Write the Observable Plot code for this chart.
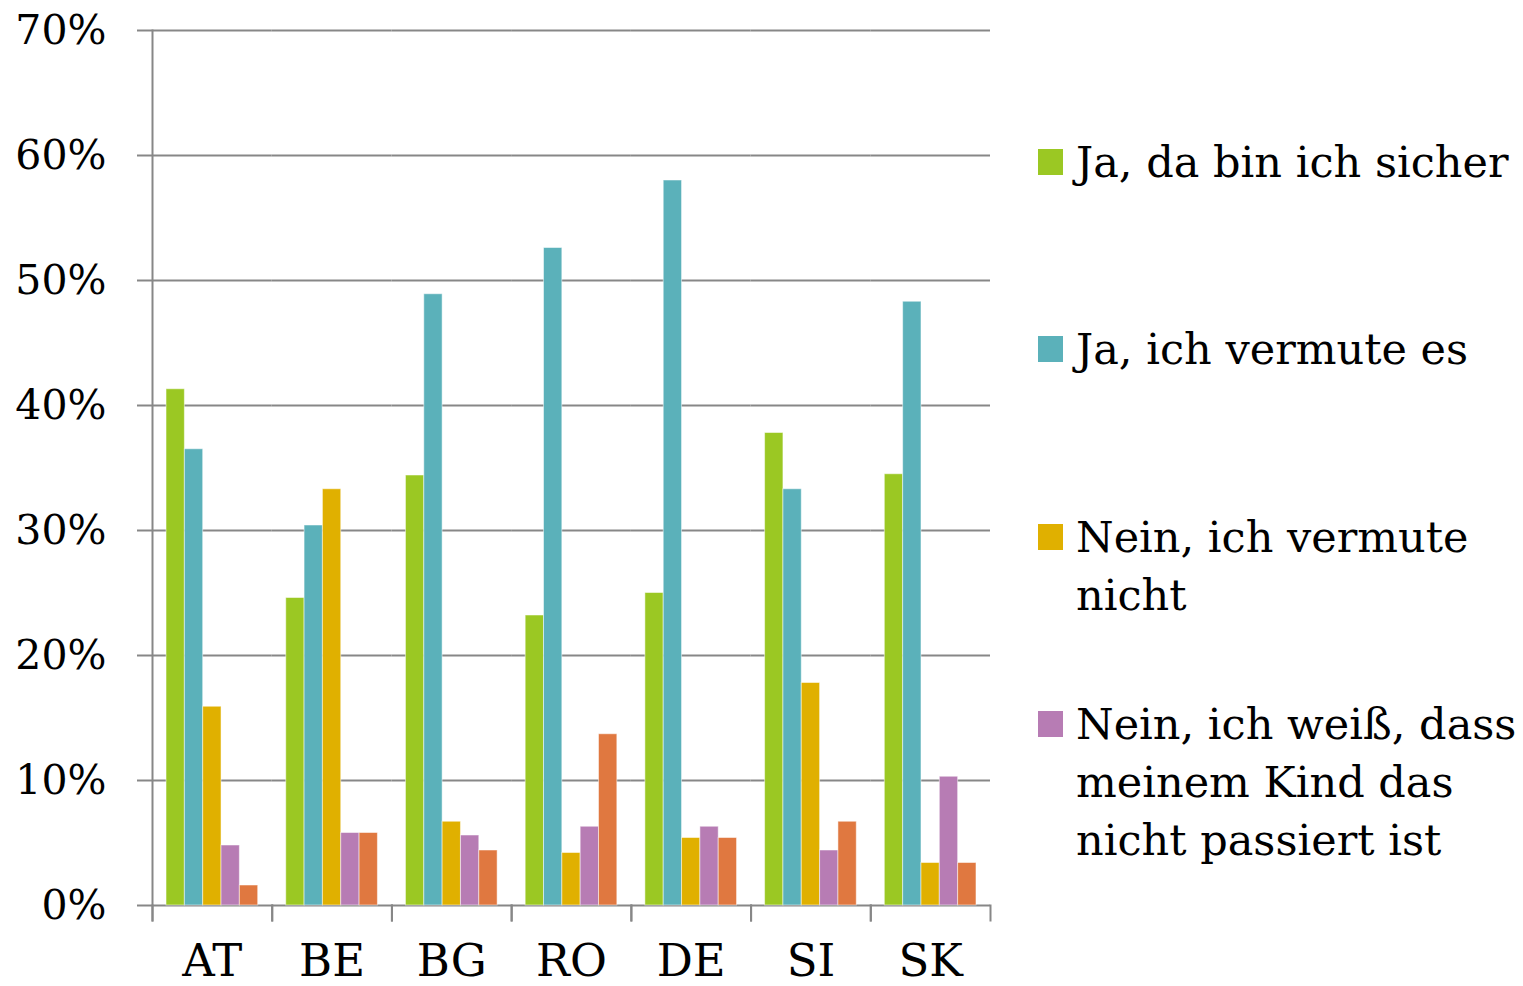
<!DOCTYPE html>
<html><head><meta charset="utf-8">
<script src="https://cdn.jsdelivr.net/npm/d3@7"></script>
<script src="https://cdn.jsdelivr.net/npm/@observablehq/plot@0.6"></script>
<style>
body{margin:0;background:#fff;font-family:"DejaVu Serif",serif;}
#wrap{position:relative;width:1523px;height:986px;overflow:hidden;background:#fff}
#chart{position:absolute;left:0;top:0}
.item{position:absolute;left:1038px;display:flex;align-items:flex-start;font-size:43px;line-height:58px;color:#000;white-space:pre;font-family:"DejaVu Serif",serif}
.sw{width:25px;height:26px;margin-top:16px;margin-right:13px;flex:none}
</style></head><body>
<div id="wrap"><div id="chart"></div><div id="legend"></div></div>
<script>
const countries = ["AT","BE","BG","RO","DE","SI","SK"];
const series = ["Ja, da bin ich sicher","Ja, ich vermute es","Nein, ich vermute nicht","Nein, ich weiß, dass meinem Kind das nicht passiert ist","Keine Angabe"];
const legendLabels = ["Ja, da bin ich sicher","Ja, ich vermute es","Nein, ich vermute\nnicht","Nein, ich weiß, dass\nmeinem Kind das\nnicht passiert ist"];
const colors = ["#9BC823","#5BB1BA","#E0B000","#B77CB4","#E07840"];
const jaSicher     = [41.3,24.6,34.4,23.2,25.0,37.8,34.5];
const jaVermute    = [36.5,30.4,48.9,52.6,58.0,33.3,48.3];
const neinVermute  = [15.9,33.3,6.7,4.2,5.4,17.8,3.4];
const neinWeiss    = [4.8,5.8,5.6,6.3,6.3,4.4,10.3];
const keineAngabe  = [1.6,5.8,4.4,13.7,5.4,6.7,3.4];
const yTicks = [0,10,20,30,40,50,60,70];

const seriesValues = [jaSicher, jaVermute, neinVermute, neinWeiss, keineAngabe];
const data = [];
countries.forEach((c, i) => seriesValues.forEach((vals, s) => data.push({country: c, series: series[s], value: vals[i]})));

const grey = "#878787";
const chart = Plot.plot({
  width: 1000, height: 986,
  marginLeft: 152, marginRight: 10, marginTop: 30, marginBottom: 66,
  style: {fontFamily: "DejaVu Serif", background: "white", color: "black"},
  fx: {domain: countries, padding: 0, round: false, label: null},
  x: {domain: series, paddingInner: 0, paddingOuter: 0.765, round: false, axis: null},
  y: {domain: [-1.2, 70], label: null, axis: null},
  color: {domain: series, range: colors},
  marks: [
    Plot.gridY(yTicks, {stroke: grey, strokeOpacity: 1, strokeWidth: 2}),
    Plot.barY(data, {fx: "country", x: "series", y: "value", fill: "series", stroke: "white", strokeWidth: 1, strokeOpacity: 0.5}),
    Plot.frame({anchor: "left", insetTop: 875, stroke: grey, strokeWidth: 2}),
    Plot.frame({anchor: "right", insetTop: 875, stroke: grey, strokeWidth: 2}),
    Plot.frame({anchor: "left", fx: "AT", stroke: grey, strokeWidth: 2}),
    Plot.axisY(yTicks, {tickSize: 15, tickPadding: 31, tickFormat: d => d + "%", fontSize: 41, stroke: grey, strokeWidth: 2, fill: "black", label: null}),
    Plot.axisFx({anchor: "bottom", tickSize: 0, tickPadding: 24, fontSize: 45, fill: "black", label: null})
  ]
});
document.getElementById("chart").appendChild(chart);

const legend = document.getElementById("legend");
const itemTops = [133, 320, 508, 695];
legendLabels.forEach((lab, i) => {
  const it = document.createElement("div");
  it.className = "item";
  it.style.top = itemTops[i] + "px";
  const sw = document.createElement("div");
  sw.className = "sw";
  sw.style.background = colors[i];
  const tx = document.createElement("div");
  tx.textContent = lab;
  it.appendChild(sw); it.appendChild(tx);
  legend.appendChild(it);
});
</script>
</body></html>
